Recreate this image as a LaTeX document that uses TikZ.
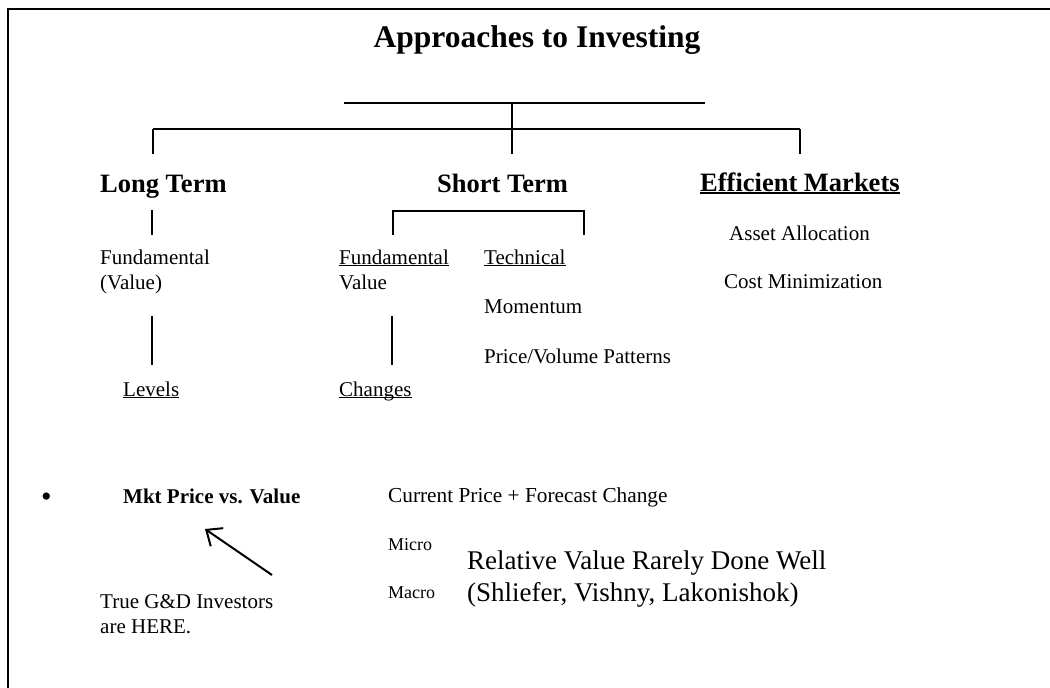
\documentclass[tikz,border=0pt]{standalone}
\usepackage{fontspec}
\setmainfont{Liberation Serif}
\usepackage{tikz}
\usetikzlibrary{arrows.meta}

\newcommand{\undl}[1]{\setbox0\hbox{#1}\rlap{\rule[-0.11em]{\wd0}{0.075em}}\box0}

\begin{document}
\begin{tikzpicture}[
        x=1pt, y=-1pt,
        txt/.style={anchor=base west, inner sep=0pt, font=\fontsize{21}{25}\selectfont},
        head/.style={anchor=base west, inner sep=0pt, font=\bfseries\fontsize{26.5}{30}\selectfont},
        smalltxt/.style={anchor=base west, inner sep=0pt, font=\fontsize{18}{22}\selectfont},
        bigtxt/.style={anchor=base west, inner sep=0pt, font=\fontsize{27}{31}\selectfont},
        bar/.style={line width=1.8pt},
        link/.style={line width=1.2pt}
    ]
        \useasboundingbox (0,0) rectangle (1050,688);

        % frame
        \draw[line width=2pt] (1050,9) -- (8,9) -- (8,688);

        \node[anchor=base, inner sep=0pt, font=\bfseries\fontsize{31.5}{36}\selectfont] (title) at (537,47) {Approaches to Investing};

        % tree
        \coordinate (topL) at (344,103);
        \coordinate (topR) at (705,103);
        \coordinate (topM) at (512,103);
        \coordinate (midL) at (153,129);
        \coordinate (midM) at (512,129);
        \coordinate (midR) at (800,129);
        \coordinate (dropL) at (153,154);
        \coordinate (dropM) at (512,154);
        \coordinate (dropR) at (800,154);
        \draw[bar] (topL) -- (topR);
        \draw[bar] (midL) -- (midR);
        \draw[link] (topM) -- (midM);
        \draw[link] (midL) -- (dropL);
        \draw[link] (midM) -- (dropM);
        \draw[link] (midR) -- (dropR);

        \node[head] (longterm) at (100,192) {Long Term};
        \node[head] (shortterm) at (437,192) {Short Term};
        \node[head] (effmkt) at (700,191) {\undl{Efficient Markets}};

        % long term column
        \coordinate (ltA) at (152,210);
        \coordinate (ltB) at (152,235);
        \draw[link] (ltA) -- (ltB);
        \node[txt] (ltfund) at (100,264) {Fundamental};
        \node[txt] (ltvalue) at (100,289) {(Value)};
        \coordinate (ltC) at (152,316);
        \coordinate (ltD) at (152,365);
        \draw[link] (ltC) -- (ltD);
        \node[txt] (levels) at (123,396) {\undl{Levels}};

        % short term column
        \coordinate (sbL) at (393,211);
        \coordinate (sbR) at (584,211);
        \coordinate (sbLd) at (393,235);
        \coordinate (sbRd) at (584,235);
        \draw[link] (sbLd) -- (sbL) -- (sbR) -- (sbRd);
        \node[txt] (stfund) at (339,264) {\undl{Fundamental}};
        \node[txt] (stvalue) at (339,289) {Value};
        \coordinate (stC) at (392,316);
        \coordinate (stD) at (392,365);
        \draw[link] (stC) -- (stD);
        \node[txt] (changes) at (339,396) {\undl{Changes}};
        \node[txt] (technical) at (484,264) {\undl{Technical}};
        \node[txt] (momentum) at (484,313) {Momentum};
        \node[txt] (patterns) at (484,363) {Price/Volume Patterns};

        % efficient markets column
        \node[txt] (assetalloc) at (729,240) {Asset Allocation};
        \node[txt] (costmin) at (724,288) {Cost Minimization};

        % bottom part
        \node[txt, font=\fontsize{30}{34}\selectfont] (bullet) at (41,506) {\textbullet};
        \node[anchor=base west, inner sep=0pt, font=\bfseries\fontsize{21}{25}\selectfont] (mktprice) at (123,503) {Mkt Price vs. Value};
        \node[txt, font=\fontsize{21.3}{25}\selectfont] (forecast) at (388,502) {Current Price + Forecast Change};
        \node[smalltxt] (micro) at (388,550) {Micro};
        \node[smalltxt] (macro) at (388,598) {Macro};
        \node[bigtxt] (relvalue) at (467,569) {Relative Value Rarely Done Well};
        \node[bigtxt] (authors) at (467,601) {(Shliefer, Vishny, Lakonishok)};
        \node[txt, font=\fontsize{21}{25}\selectfont] (trueinv) at (100,608) {True G\&D Investors};
        \node[txt, font=\fontsize{21}{25}\selectfont] (arehere) at (100,633) {are HERE.};

        \coordinate (arrowtail) at (272,575);
        \coordinate (arrowtip) at (205,529);
        \draw[line width=2pt, -{Straight Barb[length=13pt, width=22pt]}] (arrowtail) -- (arrowtip);
    \end{tikzpicture}
\end{document}
